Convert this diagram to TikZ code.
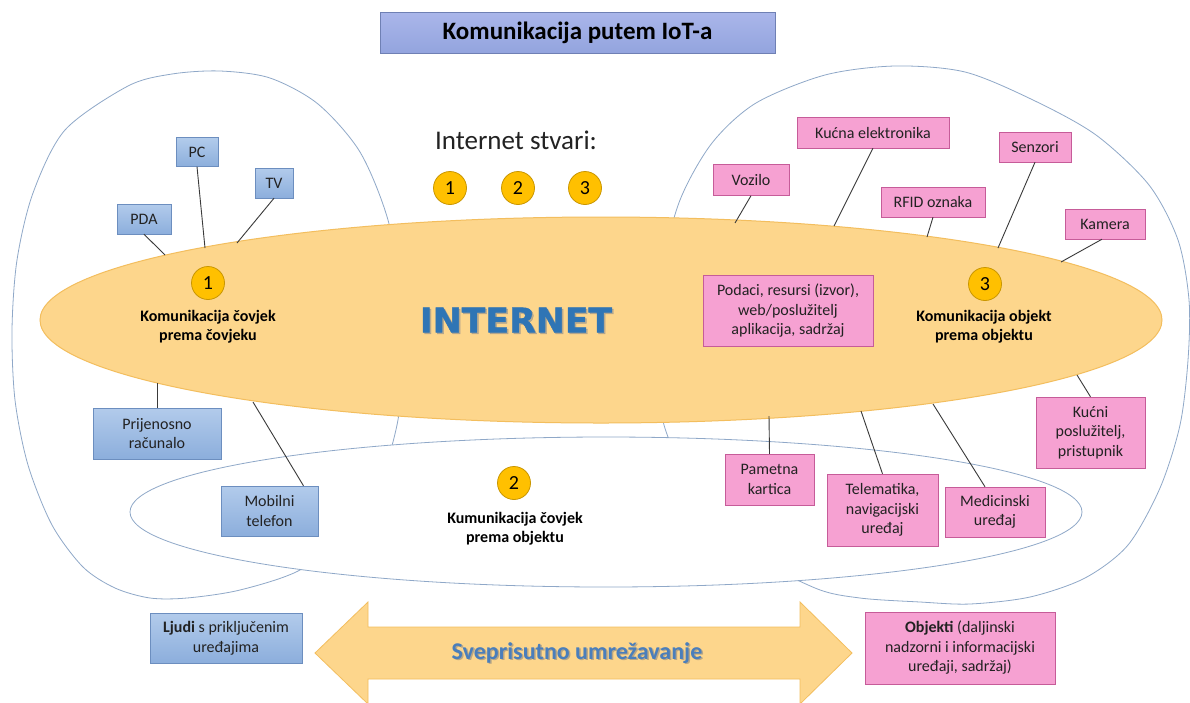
\documentclass[tikz,border=0pt]{standalone}
\usepackage{fontspec}
\setmainfont{Carlito}
\newfontfamily\heavyfont[FakeBold=1.2]{DejaVu Sans}
\usetikzlibrary{shapes.geometric}
\definecolor{outlc}{HTML}{8FA8C8}
\definecolor{orfill}{HTML}{FDD68C}
\definecolor{ordraw}{HTML}{F3BE5E}
\definecolor{bluetop}{HTML}{B2CBEB}
\definecolor{bluebot}{HTML}{8CAEDC}
\definecolor{bluedraw}{HTML}{6C8EBF}
\definecolor{pinkfill}{HTML}{F6A1D2}
\definecolor{pinkdraw}{HTML}{C65C99}
\definecolor{gold}{HTML}{FFC000}
\definecolor{golddraw}{HTML}{C99600}
\definecolor{connc}{HTML}{3A3A3A}
\definecolor{titletop}{HTML}{AAB6EA}
\definecolor{titlebot}{HTML}{93A4DE}
\definecolor{titledraw}{HTML}{6F80B4}
\definecolor{inetblue}{HTML}{2F75B5}
\definecolor{svblue}{HTML}{4A7EBB}
\definecolor{txt}{HTML}{222222}
\begin{document}
\begin{tikzpicture}[x=1pt,y=-1pt,
  outl/.style={draw=outlc,line width=0.8pt},
  conn/.style={draw=connc,line width=0.9pt},
  bbox/.style={draw=bluedraw,top color=bluetop,bottom color=bluebot,inner sep=0pt,align=center,text=txt,font=\fontsize{16}{19.5}\selectfont},
  pbox/.style={draw=pinkdraw,fill=pinkfill,inner sep=0pt,align=center,text=txt,font=\fontsize{16}{19.5}\selectfont},
  num/.style={circle,draw=golddraw,fill=gold,line width=0.8pt,minimum size=33pt,inner sep=0pt,font=\fontsize{20}{20}\selectfont},
  lbl/.style={align=center,text=black,font=\bfseries\fontsize{16}{19}\selectfont}]
\useasboundingbox (0,0) rectangle (1190,702);
\fill[white] (0,0) rectangle (1190,702);

% large outline shapes
\draw[outl] plot[smooth cycle,tension=0.5] coordinates {
 (220,71) (270,78) (318,104) (360,152) (388,220) (402,300) (403,370) (397,425)
 (380,480) (345,532) (300,570) (240,590) (187,598) (150,598) (115,588)
 (83,567) (52,525) (28,465) (15,400) (12,330) (17,260) (33,193) (65,130) (128,86) (172,74)};
\draw[outl] plot[smooth cycle,tension=0.5] coordinates {
 (895,66) (965,72) (1033,100) (1096,135) (1149,185) (1178,240) (1189,300)
 (1188,360) (1180,425) (1160,488) (1128,545) (1085,578) (1030,597) (970,604)
 (920,602) (860,598) (815,588) (745,550) (695,490) (664,425) (656,350)
 (662,270) (680,200) (712,143) (756,103) (825,75)};

% bottom ellipse
\node[ellipse,draw=outlc,line width=0.8pt,fill=white,minimum width=952pt,minimum height=150pt,inner sep=0pt] (hob) at (606,512) {};

% internet ellipse
\node[ellipse,draw=ordraw,line width=1pt,fill=orfill,minimum width=1122pt,minimum height=206pt,inner sep=0pt] (inet) at (601,320) {};

% double arrow
\filldraw[fill=orfill,draw=ordraw,line width=0.8pt] (315,653) -- (368,602) -- (368,627) -- (800,627) -- (800,602)
  -- (852,653) -- (800,704) -- (800,679) -- (368,679) -- (368,704) -- cycle;

% connector end points on the internet ellipse
\coordinate (e-pda) at (165,255);
\coordinate (e-pc) at (205,248);
\coordinate (e-tv) at (237,243);
\coordinate (e-prij) at (157,383);
\coordinate (e-mob) at (253,402);
\coordinate (e-voz) at (735,223);
\coordinate (e-kuc) at (834,226);
\coordinate (e-rfid) at (927,237);
\coordinate (e-senz) at (998,248);
\coordinate (e-kam) at (1061,262);
\coordinate (e-kserv) at (1077,375);
\coordinate (e-pam) at (769,416);
\coordinate (e-tel) at (861,411);
\coordinate (e-med) at (933,404);

% boxes
\node[bbox,minimum width=42pt,minimum height=29pt] (pc) at (197,152) {PC};
\node[bbox,minimum width=38pt,minimum height=30pt] (tv) at (274,183) {TV};
\node[bbox,minimum width=54pt,minimum height=30pt] (pda) at (144,219) {PDA};
\node[bbox,minimum width=128pt,minimum height=51pt] (prij) at (157,433.5) {Prijenosno\\računalo};
\node[bbox,minimum width=97pt,minimum height=50pt] (mob) at (269.5,511) {Mobilni\\telefon};
\node[bbox,minimum width=152pt,minimum height=50pt] (ljudi) at (226,638) {\textbf{Ljudi} s priključenim\\uređajima};

\node[pbox,minimum width=152pt,minimum height=31pt] (kuc) at (873,132.5) {Kućna elektronika};
\node[pbox,minimum width=76pt,minimum height=31pt] (voz) at (751,180) {Vozilo};
\node[pbox,minimum width=104pt,minimum height=30pt] (rfid) at (933,202) {RFID oznaka};
\node[pbox,minimum width=72pt,minimum height=30pt] (senz) at (1035,147) {Senzori};
\node[pbox,minimum width=80pt,minimum height=30pt] (kam) at (1105,224) {Kamera};
\node[pbox,minimum width=170pt,minimum height=71pt] (pod) at (788,311) {Podaci, resursi (izvor),\\web/poslužitelj\\aplikacija, sadržaj};
\node[pbox,minimum width=109pt,minimum height=71pt] (kserv) at (1090.5,432.5) {Kućni\\poslužitelj,\\pristupnik};
\node[pbox,minimum width=89pt,minimum height=51pt] (pam) at (769.5,479.5) {Pametna\\kartica};
\node[pbox,minimum width=111pt,minimum height=72pt] (tel) at (882.5,510) {Telematika,\\navigacijski\\uređaj};
\node[pbox,minimum width=100pt,minimum height=50pt] (med) at (995,512) {Medicinski\\uređaj};
\node[pbox,minimum width=190pt,minimum height=72pt] (obj) at (960,648) {\textbf{Objekti} (daljinski\\nadzorni i informacijski\\uređaji, sadržaj)};

% connectors
\draw[conn] (pda.south) -- (e-pda);
\draw[conn] (pc.south) -- (e-pc);
\draw[conn] (tv.south) -- (e-tv);
\draw[conn] (e-prij) -- (prij.north);
\draw[conn] (e-mob) -- ([xshift=34pt]mob.north);
\draw[conn] (voz.south) -- (e-voz);
\draw[conn] (kuc.south) -- (e-kuc);
\draw[conn] (rfid.south) -- (e-rfid);
\draw[conn] (senz.south) -- (e-senz);
\draw[conn] ([xshift=-3pt]kam.south) -- (e-kam);
\draw[conn] (e-kserv) -- (kserv.north);
\draw[conn] (e-pam) -- (pam.north);
\draw[conn] (e-tel) -- (tel.north);
\draw[conn] (e-med) -- ([xshift=-10pt]med.north);

% title
\node[draw=titledraw,top color=titletop,bottom color=titlebot,minimum width=395pt,minimum height=41pt,inner sep=0pt,text=black,font=\bfseries\fontsize{25}{25}\selectfont] (title) at (577.5,32.5) {Komunikacija putem IoT-a};

% Internet stvari
\node[font=\fontsize{27}{27}\selectfont,text=txt] (stvari) at (516,140) {Internet stvari:};
\node[num] (t1) at (450,188) {1};
\node[num] (t2) at (518,188) {2};
\node[num] (t3) at (585,188) {3};

% INTERNET
\node[text=black!45,opacity=0.55,font=\heavyfont\bfseries\fontsize{34}{34}\selectfont] (inetsh) at (517.5,321.5) {\scalebox{1.02}[1]{INTERNET}};
\node[text=inetblue,font=\heavyfont\bfseries\fontsize{34}{34}\selectfont] (inettxt) at (516,320) {\scalebox{1.02}[1]{INTERNET}};

% numbered groups
\node[num] (c1) at (208,283) {1};
\node[lbl] (l1) at (208,326.5) {Komunikacija čovjek\\prema čovjeku};
\node[num] (c3) at (985,284) {3};
\node[lbl] (l3) at (984,326.5) {Komunikacija objekt\\prema objektu};
\node[num] (c2) at (514,483) {2};
\node[lbl] (l2) at (515,528.5) {Kumunikacija čovjek\\prema objektu};

% arrow text
\node[text=black!50,opacity=0.55,font=\bfseries\fontsize{24}{24}\selectfont] (svsh) at (578.5,654.5) {Sveprisutno umrežavanje};
\node[text=svblue,font=\bfseries\fontsize{24}{24}\selectfont] (svtxt) at (577,653) {Sveprisutno umrežavanje};
\end{tikzpicture}
\end{document}
